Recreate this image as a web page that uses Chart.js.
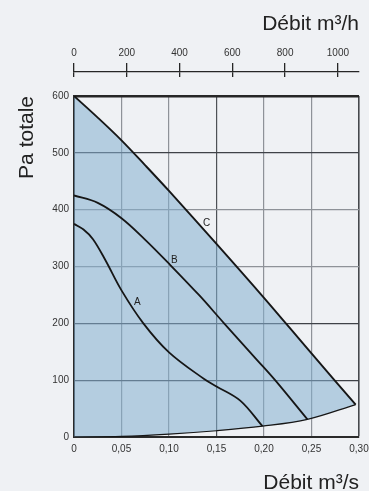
<!DOCTYPE html>
<html>
<head>
<meta charset="utf-8">
<script src="https://cdn.jsdelivr.net/npm/chart.js@4.4.1/dist/chart.umd.min.js"></script>
<style>
  html, body { margin: 0; padding: 0; background: #eff1f4; }
  #wrap { position: relative; width: 369px; height: 491px; overflow: hidden; }
  #main, #topAxis { position: absolute; left: 0; top: 0; }
</style>
</head>
<body>
<div id="wrap">
  <canvas id="main" width="369" height="491"></canvas>
  <canvas id="topAxis" width="369" height="77"></canvas>
</div>
<script>
// Fan curves: flow (m³/s) against total pressure (Pa)
const flowC = [0, 0.025, 0.05, 0.075, 0.10, 0.15, 0.20, 0.25, 0.2965];
const presC = [600, 562, 522, 478, 433, 340, 245, 147, 57];

const flowB = [0, 0.025, 0.05, 0.075, 0.10, 0.132, 0.158, 0.193, 0.2117, 0.2457];
const presB = [425, 412, 385, 347, 305, 249, 200, 135, 100, 31];

const flowA = [0, 0.01, 0.02, 0.0331, 0.05, 0.073, 0.10, 0.137, 0.15, 0.175, 0.1984];
const presA = [375, 365, 348, 311, 258, 200, 149, 102, 89, 64, 19];

// Lower limit of the operating range
const flowLimit = [0, 0.05, 0.10, 0.15, 0.1984, 0.2457, 0.2965];
const presLimit = [0, 1, 5, 11, 19, 31, 57];

// Curve names and where they are written
const curveNames = ['A', 'B', 'C'];
const nameFlow = [0.0667, 0.1056, 0.1396];
const namePres = [237, 311, 376];

// Axis ticks
const flowTicks = [0, 0.05, 0.10, 0.15, 0.20, 0.25, 0.30];
const flowTickLabels = ['0', '0,05', '0,10', '0,15', '0,20', '0,25', '0,30'];
const presTicks = [0, 100, 200, 300, 400, 500, 600];
const presTickLabels = ['0', '100', '200', '300', '400', '500', '600'];
const hourTicks = [0, 200, 400, 600, 800, 1000];
const hourTickLabels = ['0', '200', '400', '600', '800', '1000'];
const hourMax = 1080; // 0,30 m³/s

const FONT = '"Liberation Sans", Arial, sans-serif';
Chart.defaults.font.family = FONT;

const pts = (xs, ys) => xs.map((x, i) => ({ x, y: ys[i] }));

function xGridColor(v) {
  if (v === 0.15) return '#4d5156';
  if (v >= 0.299) return '#45484c';
  return '#8e9298';
}
function yGridColor(v) {
  if (v === 600) return '#262626';
  if (v === 300 || v === 400) return '#8e9298';
  return '#3f4247';
}

const curveNamesPlugin = {
  id: 'curveNames',
  afterDatasetsDraw(chart) {
    const { ctx, scales: { x, y } } = chart;
    ctx.save();
    ctx.font = '10px ' + FONT;
    ctx.fillStyle = '#222';
    ctx.textAlign = 'center';
    ctx.textBaseline = 'middle';
    curveNames.forEach((t, i) => {
      ctx.fillText(t, x.getPixelForValue(nameFlow[i]), y.getPixelForValue(namePres[i]));
    });
    ctx.restore();
  }
};

const lineStyle = { pointRadius: 0, tension: 0.35, borderColor: '#161616' };

new Chart(document.getElementById('main'), {
  type: 'line',
  data: {
    datasets: [
      { label: 'C', data: pts(flowC, presC), ...lineStyle, borderWidth: 1.9,
        fill: 3, backgroundColor: 'rgba(131,175,207,0.55)' },
      { label: 'B', data: pts(flowB, presB), ...lineStyle, borderWidth: 1.8, fill: false },
      { label: 'A', data: pts(flowA, presA), ...lineStyle, borderWidth: 1.8, fill: false },
      { label: 'limit', data: pts(flowLimit, presLimit), ...lineStyle, borderWidth: 1.2, fill: false }
    ]
  },
  options: {
    responsive: false,
    animation: false,
    devicePixelRatio: 1,
    layout: { padding: { left: 0, right: 10, top: 96, bottom: 0 } },
    plugins: {
      legend: { display: false },
      tooltip: { enabled: false },
      filler: { drawTime: 'beforeDatasetsDraw' }
    },
    scales: {
      x: {
        type: 'linear', min: 0, max: 0.3,
        afterBuildTicks: s => { s.ticks = flowTicks.map(v => ({ value: v })); },
        afterFit: s => { s.height = 54; s.paddingLeft = 0; s.paddingRight = 0; },
        ticks: { callback: (v, i) => flowTickLabels[i], font: { size: 10 }, color: '#333',
                 padding: 6, maxRotation: 0, autoSkip: false },
        grid: { drawTicks: false, color: c => xGridColor(c.tick.value),
                lineWidth: c => (c.tick.value >= 0.299 ? 1.6 : 1.2) },
        border: { color: '#2a2a2a', width: 2 },
        title: { display: true, text: 'Débit m³/s', align: 'end', color: '#222',
                 font: { size: 21, lineHeight: 0.75 }, padding: 0 }
      },
      y: {
        type: 'linear', min: 0, max: 600,
        afterBuildTicks: s => { s.ticks = presTicks.map(v => ({ value: v })); },
        afterFit: s => { s.width = 74; s.paddingTop = 0; s.paddingBottom = 0; },
        ticks: { callback: (v, i) => presTickLabels[i], font: { size: 10 }, color: '#333', padding: 5 },
        grid: { drawTicks: false, color: c => yGridColor(c.tick.value),
                lineWidth: c => (c.tick.value === 600 ? 2.4 : 1.2) },
        border: { color: '#2a2a2a', width: 2 },
        title: { display: true, text: 'Pa totale', align: 'end', color: '#222',
                 font: { size: 21 }, padding: { top: 15, bottom: 0 } }
      }
    }
  },
  plugins: [curveNamesPlugin]
});

// Second flow scale in m³/h above the plot
new Chart(document.getElementById('topAxis'), {
  type: 'line',
  data: { datasets: [] },
  options: {
    responsive: false,
    animation: false,
    devicePixelRatio: 1,
    layout: { padding: { left: 74, right: 10, top: 0, bottom: 0 } },
    plugins: { legend: { display: false }, tooltip: { enabled: false } },
    scales: {
      x: {
        type: 'linear', position: 'top', min: 0, max: hourMax,
        afterBuildTicks: s => { s.ticks = hourTicks.map(v => ({ value: v })); },
        afterFit: s => { s.height = 72; s.paddingLeft = 0; s.paddingRight = 0; },
        ticks: { callback: (v, i) => hourTickLabels[i], font: { size: 10 }, color: '#333',
                 padding: 4, maxRotation: 0, autoSkip: false },
        grid: { color: '#262626', lineWidth: 1.3, tickLength: 9, drawOnChartArea: true },
        border: { color: '#262626', width: 1.3 },
        title: { display: true, text: 'Débit m³/h', align: 'end', color: '#222',
                 font: { size: 21 }, padding: { top: 12, bottom: 0 } }
      },
      y: { display: false, min: 0, max: 1 }
    }
  }
});
</script>
</body>
</html>
